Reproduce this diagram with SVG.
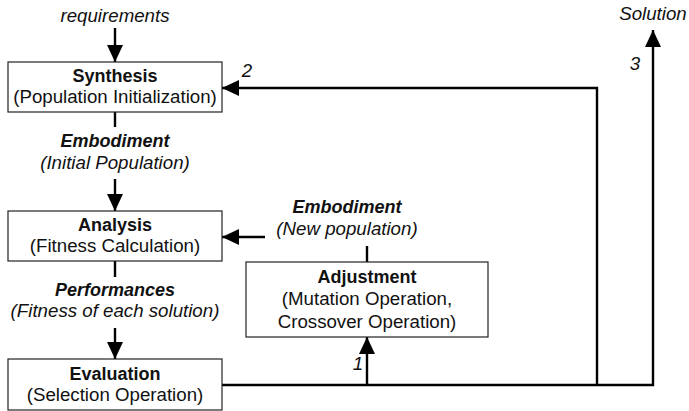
<svg xmlns="http://www.w3.org/2000/svg" width="689" height="411" viewBox="0 0 689 411">
  <style>
    text { font-family: "Liberation Sans", Arial, sans-serif; font-size: 18.7px; fill: #111; }
    .c { text-anchor: middle; }
    .b { font-weight: bold; font-size: 18px; }
    .i { font-style: italic; }
    .box { fill: #fff; stroke: #222; stroke-width: 1.2; }
    .wire { fill: none; stroke: #000; stroke-width: 2.4; }
  </style>
  <defs>
    <marker id="arrow" viewBox="0 0 17 16" refX="17" refY="8" markerWidth="17" markerHeight="16" markerUnits="userSpaceOnUse" orient="auto">
      <path d="M0,0 L17,8 L0,16 Z" fill="#000"/>
    </marker>
  </defs>

  <!-- connectors -->
  <g id="connectors">
    <line class="wire" x1="115" y1="28" x2="115" y2="62" marker-end="url(#arrow)"/>
    <line class="wire" x1="115" y1="112" x2="115" y2="127"/>
    <line class="wire" x1="115" y1="179" x2="115" y2="211" marker-end="url(#arrow)"/>
    <line class="wire" x1="115" y1="261" x2="115" y2="277"/>
    <line class="wire" x1="115" y1="328" x2="115" y2="359" marker-end="url(#arrow)"/>
    <line class="wire" x1="265" y1="237" x2="222" y2="237" marker-end="url(#arrow)"/>
    <line class="wire" x1="367" y1="246" x2="367" y2="262"/>
    <line class="wire" x1="367" y1="385" x2="367" y2="337" marker-end="url(#arrow)"/>
    <polyline class="wire" points="222,385 653,385 653,30" marker-end="url(#arrow)"/>
    <polyline class="wire" points="597,385 597,88 222,88" marker-end="url(#arrow)"/>
    <text class="i" x="358" y="370" text-anchor="middle">1</text>
    <text class="i" x="247" y="77" text-anchor="middle">2</text>
    <text class="i" x="635" y="70" text-anchor="middle">3</text>
    <text class="c i" x="115" y="22">requirements</text>
    <text class="c i" x="653" y="20">Solution</text>
    <text class="c b i" x="115" y="147">Embodiment</text>
    <text class="c i" x="115" y="169">(Initial Population)</text>
    <text class="c b i" x="347" y="213">Embodiment</text>
    <text class="c i" x="347" y="235">(New population)</text>
    <text class="c b i" x="115" y="296">Performances</text>
    <text class="c i" x="115" y="317">(Fitness of each solution)</text>
  </g>

  <g id="synthesis">
    <rect class="box" x="8" y="62" width="214" height="50"/>
    <text class="c b" x="115" y="82">Synthesis</text>
    <text class="c" x="115" y="103">(Population Initialization)</text>
  </g>

  <g id="analysis">
    <rect class="box" x="8" y="211" width="214" height="50"/>
    <text class="c b" x="115" y="231">Analysis</text>
    <text class="c" x="115" y="252">(Fitness Calculation)</text>
  </g>

  <g id="evaluation">
    <rect class="box" x="8" y="359" width="214" height="51"/>
    <text class="c b" x="115" y="380">Evaluation</text>
    <text class="c" x="115" y="401">(Selection Operation)</text>
  </g>

  <g id="adjustment">
    <rect class="box" x="246" y="262" width="242" height="75"/>
    <text class="c b" x="367" y="283">Adjustment</text>
    <text class="c" x="367" y="305">(Mutation Operation,</text>
    <text class="c" x="367" y="328">Crossover Operation)</text>
  </g>
</svg>
